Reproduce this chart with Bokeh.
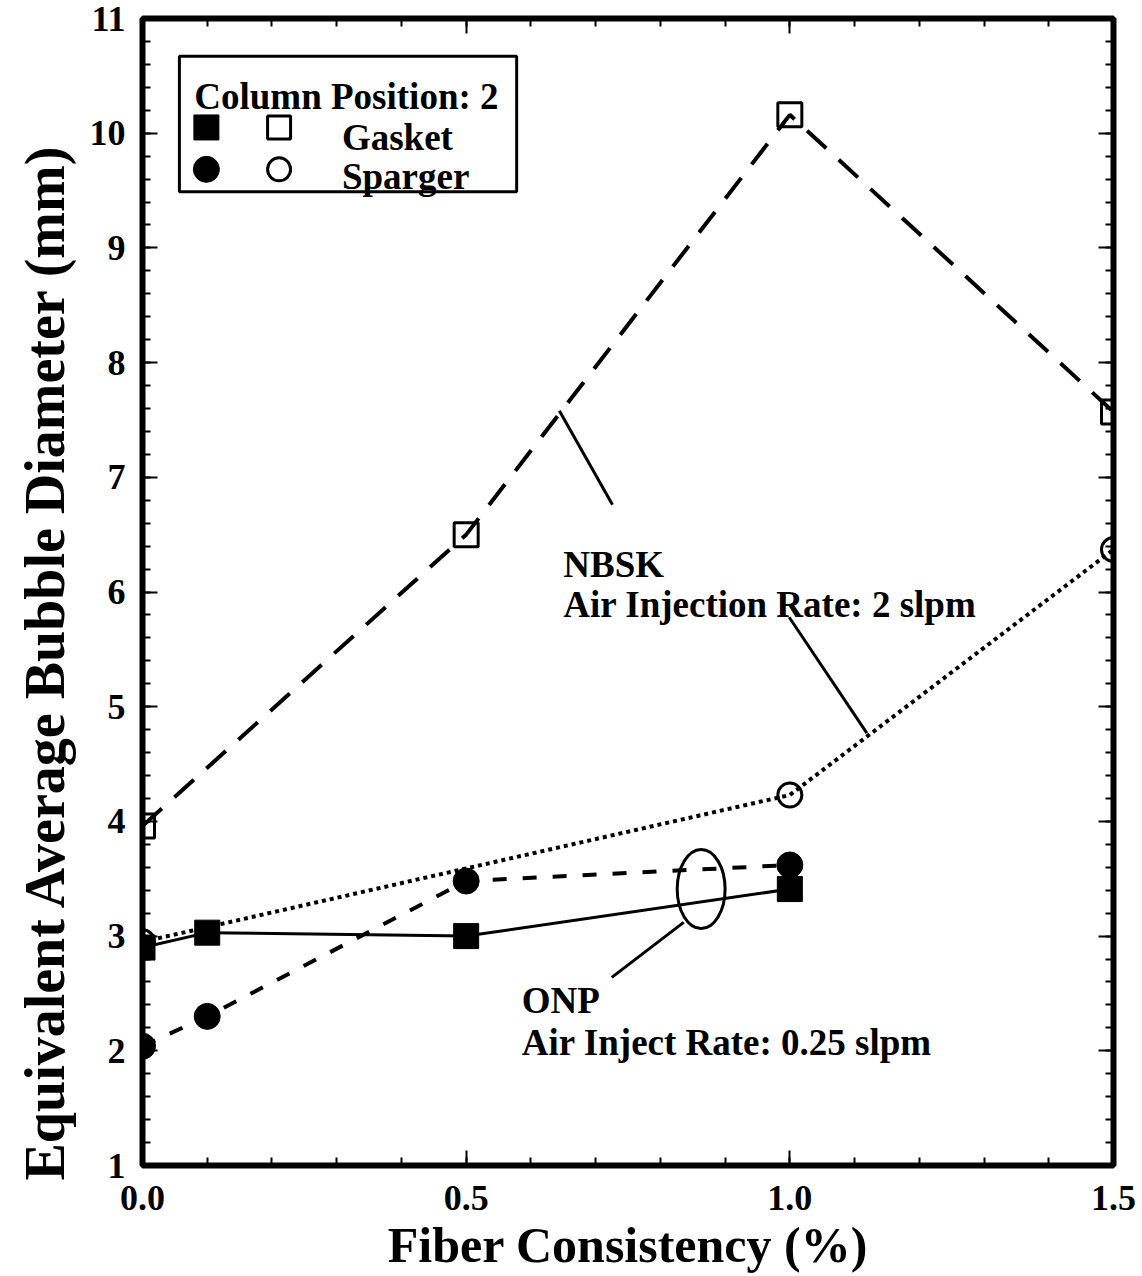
import math
from bokeh.plotting import figure
from bokeh.models import (LinearAxis, FixedTicker, Range1d, Label, BoxAnnotation,
                          PrintfTickFormatter, Title)
from bokeh.embed import file_html
from bokeh.resources import INLINE

# ---------------- data ----------------
onp_gasket_x = [0.0, 0.1, 0.5, 1.0]
onp_gasket_y = [2.90, 3.03, 3.00, 3.41]

onp_sparger_x = [0.0, 0.1, 0.5, 1.0]
onp_sparger_y = [2.04, 2.30, 3.48, 3.62]

nbsk_gasket_x = [0.0, 0.5, 1.0, 1.5]
nbsk_gasket_y = [3.96, 6.50, 10.16, 7.57]

nbsk_sparger_x = [0.0, 1.0, 1.5]
nbsk_sparger_y = [2.95, 4.23, 6.37]

x_ticks = [0.0, 0.5, 1.0, 1.5]
x_minor = [round(0.1 * i, 1) for i in range(0, 16)]
y_ticks = list(range(1, 12))
y_minor = [round(1 + 0.2 * i, 1) for i in range(0, 51)]

x_title = "Fiber Consistency (%)"
y_title = "Equivalent Average Bubble Diameter (mm)"
legend_title = "Column Position: 2"
legend_labels = ["Gasket", "Sparger"]
nbsk_text = ["NBSK", "Air Injection Rate: 2 slpm"]
onp_text = ["ONP", "Air Inject Rate: 0.25 slpm"]

FONT = "Liberation Serif"

p = figure(width=1142, height=1276, x_range=Range1d(0, 1.5), y_range=Range1d(1, 11),
           output_backend="svg", toolbar_location=None,
           min_border_left=140, min_border_right=29, min_border_top=18,
           min_border_bottom=111, x_axis_location=None, y_axis_location=None)
p.xgrid.visible = False
p.ygrid.visible = False
p.outline_line_color = "black"
p.outline_line_width = 6
p.background_fill_color = "white"
p.border_fill_color = "white"


def style_axis(ax, labels=True):
    ax.axis_line_color = None
    ax.major_tick_in = 15
    ax.major_tick_out = 0
    ax.minor_tick_in = 8
    ax.minor_tick_out = 0
    ax.major_tick_line_width = 2
    ax.minor_tick_line_width = 2
    ax.major_tick_line_color = "black"
    ax.minor_tick_line_color = "black"
    ax.major_label_text_font = FONT
    ax.major_label_text_font_style = "bold"
    ax.major_label_text_color = "black"
    if not labels:
        ax.major_label_text_color = None
        ax.major_label_text_font_size = "1px"
        ax.major_label_standoff = 0


xb = LinearAxis(ticker=FixedTicker(ticks=x_ticks, minor_ticks=x_minor),
                formatter=PrintfTickFormatter(format="%.1f"))
style_axis(xb)
xb.major_label_text_font_size = "36px"
xb.major_label_standoff = 20
xb.axis_label = x_title
xb.axis_label_text_font = FONT
xb.axis_label_text_font_style = "bold"
xb.axis_label_text_font_size = "50px"
xb.axis_label_text_color = "black"
xb.axis_label_standoff = 4
p.add_layout(xb, "below")

xt = LinearAxis(ticker=FixedTicker(ticks=x_ticks, minor_ticks=x_minor))
style_axis(xt, labels=False)
p.add_layout(xt, "above")

yl = LinearAxis(ticker=FixedTicker(ticks=y_ticks, minor_ticks=y_minor))
style_axis(yl)
yl.major_label_text_font_size = "36px"
yl.major_label_standoff = 17
p.add_layout(yl, "left")

yr = LinearAxis(ticker=FixedTicker(ticks=y_ticks, minor_ticks=y_minor))
style_axis(yr, labels=False)
p.add_layout(yr, "right")

# y title as a side title (rotated), shifted along the axis like the reference
p.add_layout(Title(text=y_title, align="left", offset=-15,
                   text_font=FONT, text_font_style="bold", text_font_size="56px",
                   text_color="black", standoff=22), "left")

# ---------------- lines ----------------
p.line(nbsk_gasket_x, nbsk_gasket_y, line_color="black", line_width=4, line_dash="26 17")
p.line(nbsk_sparger_x, nbsk_sparger_y, line_color="black", line_width=4, line_dash="4 4")
p.line(onp_sparger_x, onp_sparger_y, line_color="black", line_width=4, line_dash="14 16")
p.line(onp_gasket_x, onp_gasket_y, line_color="black", line_width=3)

# ---------------- markers ----------------
p.scatter(nbsk_gasket_x, nbsk_gasket_y, marker="square", size=24, fill_color=None,
          line_color="black", line_width=3)
p.scatter(nbsk_sparger_x, nbsk_sparger_y, marker="circle", size=24, fill_color=None,
          line_color="black", line_width=3)
p.scatter(onp_sparger_x, onp_sparger_y, marker="circle", size=26, fill_color="black",
          line_color="black")
p.scatter(onp_gasket_x, onp_gasket_y, marker="square", size=25, fill_color="black",
          line_color="black")

# ---------------- annotations ----------------
# pointer lines
p.segment(x0=[0.644, 0.999, 0.725], y0=[7.58, 5.78, 2.64],
          x1=[0.726, 1.119, 0.836], y1=[6.76, 4.77, 3.12],
          line_color="black", line_width=3)
# ellipse around ONP end points
p.ellipse(x=[0.863], y=[3.41], width=[0.074], height=[0.689], fill_color=None,
          line_color="black", line_width=3)


def txt(x, y, s, size="37px"):
    p.add_layout(Label(x=x, y=y, text=s, text_font=FONT, text_font_style="bold",
                       text_font_size=size, text_baseline="alphabetic",
                       text_color="black"))


txt(0.650, 6.24, nbsk_text[0])
txt(0.650, 5.89, nbsk_text[1])
txt(0.586, 2.44, onp_text[0])
txt(0.586, 2.07, onp_text[1])

# legend box
p.add_layout(BoxAnnotation(left=0.057, right=0.578, top=10.67, bottom=9.49,
                           fill_color=None, fill_alpha=0, line_color="black",
                           line_alpha=1, line_width=3))
txt(0.080, 10.32, legend_title)
p.scatter([0.0987], [10.05], marker="square", size=25, fill_color="black", line_color="black")
p.scatter([0.211], [10.05], marker="square", size=23, fill_color=None, line_color="black",
          line_width=3)
p.scatter([0.0987], [9.685], marker="circle", size=26, fill_color="black", line_color="black")
p.scatter([0.211], [9.685], marker="circle", size=23, fill_color=None, line_color="black",
          line_width=3)
txt(0.308, 9.965, legend_labels[0])
txt(0.308, 9.625, legend_labels[1])

open("out.html", "w").write(file_html(p, INLINE))
